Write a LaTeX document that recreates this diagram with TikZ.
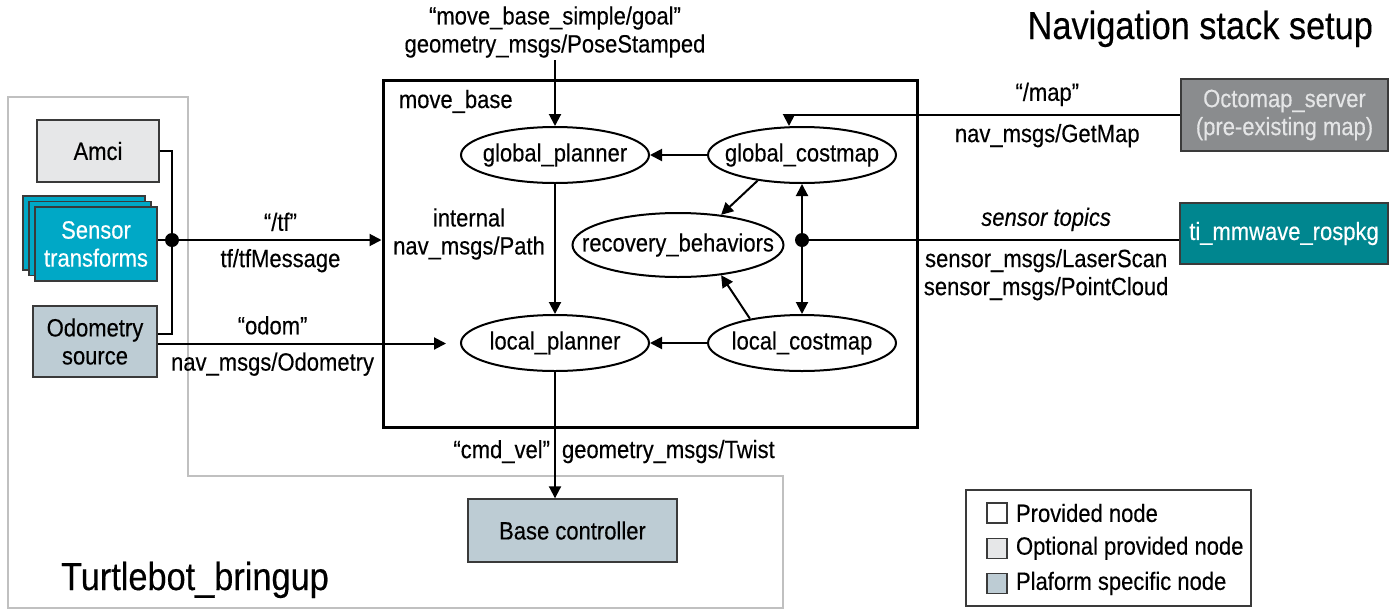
\documentclass[tikz,border=0pt]{standalone}
\usepackage{fontspec}
\setmainfont{Liberation Sans}[FakeStretch=0.88,FakeBold=0.3]
\usepackage{xcolor}
\definecolor{navlight}{HTML}{E6E7E8}
\definecolor{navcyan}{HTML}{00A8C6}
\definecolor{navslate}{HTML}{BDCCD4}
\definecolor{navgray}{HTML}{8A8C8E}
\definecolor{navpale}{HTML}{E4E5E6}
\definecolor{navteal}{HTML}{00868F}
\definecolor{navout}{HTML}{C0C0C0}
\definecolor{navedge}{HTML}{3A3A3A}
\newcommand{\navfont}{\fontsize{12.5}{14}\selectfont}
\newcommand{\navtitle}{\fontsize{19.5}{22}\selectfont}
\usepackage{tikz}
\usetikzlibrary{arrows.meta,positioning,shapes.geometric,shadows,calc}
\tikzset{
  navbox/.style={draw=navedge,line width=0.7pt,align=center,inner sep=2pt,font=\navfont},
  navell/.style={draw,ellipse,line width=1pt,inner sep=0pt,minimum width=94pt,minimum height=28pt,font=\navfont},
  navline/.style={line width=1pt},
  navflow/.style={-{Triangle[length=6pt,width=6pt]},line width=1pt},
  navboth/.style={{Triangle[length=6pt,width=6pt]}-{Triangle[length=6pt,width=6pt]},line width=1pt},
  navlabel/.style={font=\navfont,align=center,inner sep=1pt},
  navdot/.style={circle,fill,inner sep=0pt,minimum size=7pt},
  navkey/.style={draw=navedge,line width=0.6pt,minimum size=10pt,inner sep=0pt},
}

\begin{document}
\begin{tikzpicture}[x=0.5pt,y=-0.5pt]
\useasboundingbox (0,0) rectangle (1396,611);
% turtlebot_bringup group
\draw[navout,line width=1.3pt] (8,97) -- (188,97) -- (188,476) -- (783,476) -- (783,608) -- (8,608) -- cycle;
\node[anchor=base east,font=\navtitle] (navtitle) at (1380,39) {Navigation stack setup};
\node[anchor=base west,font=\navtitle] (tbtitle) at (54,590) {Turtlebot\_bringup};

% robot side nodes
\node[navbox,fill=navlight,minimum width=61pt,minimum height=31pt] (amci) at (98,151) {Amci};
\node[navbox,fill=navcyan,text=white,minimum width=61pt,minimum height=37pt,
  double copy shadow={shadow xshift=-3pt,shadow yshift=2.75pt}] (st) at (96,244) {Sensor\\transforms};
\node[navbox,fill=navslate,minimum width=62pt,minimum height=35.5pt] (od) at (95,341.5) {Odometry\\source};
\node[navbox,fill=navslate,minimum width=104.5pt,minimum height=31.5pt] (bc) at (572.5,530.5) {Base controller};

% external nodes
\node[navbox,fill=navgray,text=navpale,minimum width=103.5pt,minimum height=36pt] (oct) at (1284.5,115) {Octomap\_server\\(pre-existing map)};
\node[navbox,fill=navteal,text=white,minimum width=104pt,minimum height=30.5pt] (ti) at (1284,233.5) {ti\_mmwave\_rospkg};

% move_base
\node[draw,line width=1.5pt,minimum width=267pt,minimum height=173.5pt,inner sep=0pt] (mb) at (650,253.5) {};
\node[navlabel,anchor=north west] (mbname) at ([xshift=7.5pt,yshift=-4.5pt]mb.north west) {move\_base};
\node[navell] (gp) at (555,155) {\makebox[0pt]{global\_planner}};
\node[navell] (gc) at (802,155) {\makebox[0pt]{global\_costmap}};
\node[navell,minimum width=105.5pt,minimum height=32pt] (rb) at (678,245) {\makebox[0pt]{recovery\_behaviors}};
\node[navell] (lp) at (555,343) {\makebox[0pt]{local\_planner}};
\node[navell] (lc) at (802,343) {\makebox[0pt]{local\_costmap}};
\node[navlabel] (goal) at (555,32) {“move\_base\_simple/goal”\\geometry\_msgs/PoseStamped};
\node[navlabel] (path) at (469,234) {internal\\nav\_msgs/Path};
\node[navdot] (jn) at (172,240) {};
\node[navdot] (jr) at (802,240) {};
\coordinate (odout) at ([yshift=-1pt]od.east);

% connectors
\draw[navline] (amci.east) -| (jn.center) |- ([yshift=4pt]od.east);
\draw[navline] (st.east |- jn) -- (jn);
\draw[navflow] (jn) -- (jn -| mb.west)
  node[navlabel,pos=0.5,above=3pt]{“/tf”}
  node[navlabel,pos=0.5,below=3pt]{tf/tfMessage};
\draw[navflow,shorten >=7pt] (odout) -- (odout -| lp.west)
  node[navlabel,pos=0.38,above=3pt]{“odom”}
  node[navlabel,pos=0.38,below=3pt]{nav\_msgs/Odometry};
\draw[navflow] (goal) -- (gp);
\draw[navflow] (gc) -- (gp);
\draw[navflow] (lc) -- (lp);
\draw[navflow] (gp) -- (lp);
\draw[navflow] (gc.210) -- (rb.35);
\draw[navflow] (lc.155) -- (rb.-35);
\draw[navboth] (gc) -- (lc);
\draw[navflow] (oct.west) -| ([xshift=-6.5pt]gc.north)
  node[navlabel,pos=0.17,above=3pt]{“/map”}
  node[navlabel,pos=0.17,below=3pt]{nav\_msgs/GetMap};
\draw[navline] (jr) -- (jr -| ti.west)
  node[navlabel,pos=0.64,above=3pt]{\textit{sensor topics}}
  node[navlabel,pos=0.64,below=3pt]{sensor\_msgs/LaserScan\\sensor\_msgs/PointCloud};
\draw[navflow] (lp) -- (lp.south |- bc.north)
  node[navlabel,pos=0.63,left=1pt]{“cmd\_vel”}
  node[navlabel,pos=0.63,right=2pt]{geometry\_msgs/Twist};

% legend
\node[draw=navedge,line width=0.7pt,minimum width=142.5pt,minimum height=58pt] (legend) at (1108.5,548) {};
\node[navkey,fill=white] (k1) at (997,513) {};
\node[navkey,fill=navlight,below=7pt of k1] (k2) {};
\node[navkey,fill=navslate,below=7pt of k2] (k3) {};
\node[navlabel,right=3pt of k1] (t1) {Provided node};
\node[navlabel,right=3pt of k2] (t2) {Optional provided node};
\node[navlabel,right=3pt of k3] (t3) {Plaform specific node};
\end{tikzpicture}
\end{document}
